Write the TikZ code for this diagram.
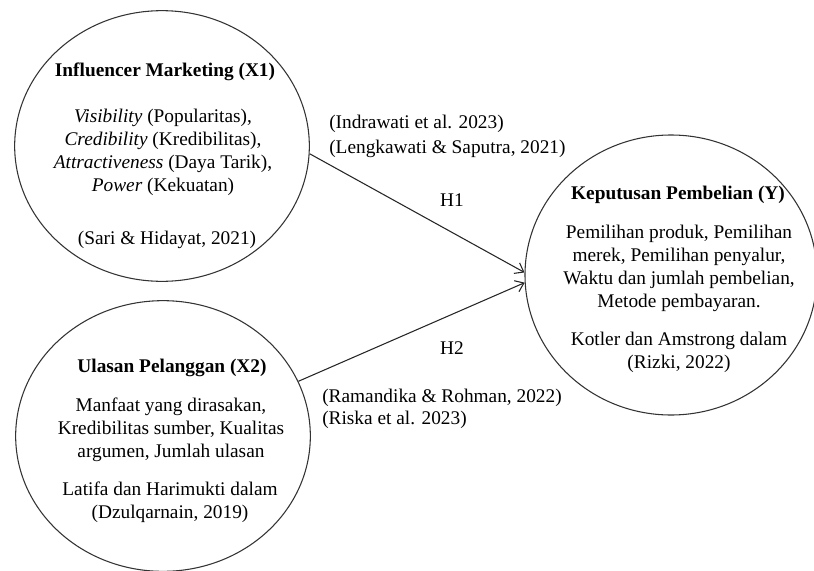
\documentclass[tikz,border=0pt]{standalone}
\usepackage{fontspec}
\setmainfont{Liberation Serif}
\usetikzlibrary{shapes.geometric}
\usetikzlibrary{arrows.meta}
\pgfdeclarelayer{edgelayer}
\pgfdeclarelayer{nodelayer}
\pgfsetlayers{edgelayer,nodelayer,main}
\tikzstyle{none}=[inner sep=0pt,align=center,font=\fontsize{14.5}{17.3}\selectfont]
\tikzstyle{heading}=[style=none,font=\fontsize{14.5}{17.3}\selectfont\bfseries]
\tikzstyle{construct}=[ellipse,draw=black!80,line width=0.8pt,inner sep=0pt,minimum width=221pt,minimum height=203pt]
\tikzstyle{hypothesis}=[-{Straight Barb[length=6pt,width=9pt]},draw=black!85,line width=0.8pt]

\begin{document}
\begin{tikzpicture}[x=0.75pt,y=-0.75pt]
	\useasboundingbox (0,0) rectangle (814,571);
	\begin{pgfonlayer}{nodelayer}
		\node [style=construct] (0) at (162, 146) {};
		\node [style=construct] (1) at (163, 436) {};
		\node [style=construct, minimum width=219pt, minimum height=210pt] (2) at (671, 275) {};
		\node [style=heading] (3) at (165, 72) {Influencer Marketing (X1)};
		\node [style=none] (4) at (163, 152) {\textit{Visibility} (Popularitas),\\ \textit{Credibility} (Kredibilitas),\\ \textit{Attractiveness} (Daya Tarik),\\ \textit{Power} (Kekuatan)};
		\node [style=none] (5) at (167, 240) {(Sari \& Hidayat, 2021)};
		\node [style=heading] (6) at (172, 368) {Ulasan Pelanggan (X2)};
		\node [style=none] (7) at (171, 430) {Manfaat yang dirasakan,\\ Kredibilitas sumber, Kualitas\\ argumen, Jumlah ulasan};
		\node [style=none] (8) at (170, 502) {Latifa dan Harimukti dalam\\ (Dzulqarnain, 2019)};
		\node [style=heading] (9) at (678, 195) {Keputusan Pembelian (Y)};
		\node [style=none] (10) at (679, 268) {Pemilihan produk, Pemilihan\\ merek, Pemilihan penyalur,\\ Waktu dan jumlah pembelian,\\ Metode pembayaran.};
		\node [style=none] (11) at (679, 352) {Kotler dan Amstrong dalam\\ (Rizki, 2022)};
		\node [style=none, anchor=west] (12) at (329, 124) {(Indrawati et al. 2023)};
		\node [style=none, anchor=west] (13) at (329, 149) {(Lengkawati \& Saputra, 2021)};
		\node [style=none] (14) at (452, 200) {H1};
		\node [style=none] (15) at (452, 348) {H2};
		\node [style=none, anchor=west] (16) at (322, 398) {(Ramandika \& Rohman, 2022)};
		\node [style=none, anchor=west] (17) at (322, 420) {(Riska et al. 2023)};
	\end{pgfonlayer}
	\begin{pgfonlayer}{edgelayer}
		\draw [style=hypothesis] (0.-3) to (2.179);
		\draw [style=hypothesis] (1.22) to (2.-177);
	\end{pgfonlayer}
\end{tikzpicture}
\end{document}
